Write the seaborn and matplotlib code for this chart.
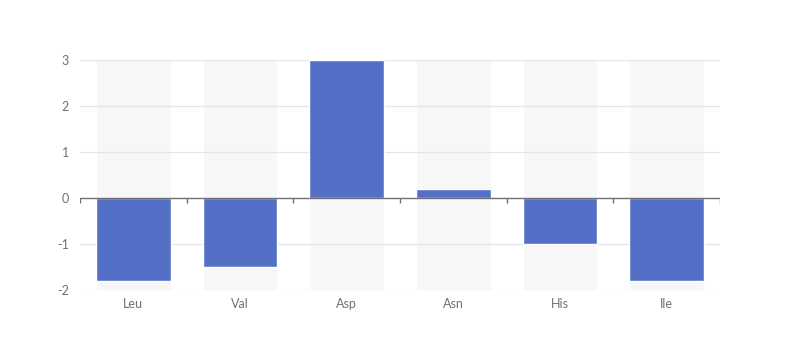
import numpy as np
import pandas as pd
import seaborn as sns
import matplotlib.pyplot as plt

# Chart data
categories = ["Leu", "Val", "Asp", "Asn", "His", "Ile"]
values = [-1.8, -1.5, 3.0, 0.2, -1.0, -1.8]
y_min, y_max = -2, 3
y_ticks = [-2, -1, 0, 1, 2, 3]

BAR_COLOR = "#5470c6"
BG_COLOR = "#f7f7f8"
GRID_COLOR = "#e0e6f1"
AXIS_COLOR = "#6e7079"

sns.set_theme(style="white")
plt.rcParams["font.family"] = ["Lato", "DejaVu Sans"]

df = pd.DataFrame({"category": categories, "value": values})
bg = pd.DataFrame({"category": categories, "value": [y_max - y_min] * len(categories)})

fig = plt.figure(figsize=(8, 3.6), dpi=100)
ax = fig.add_axes([0.1, 1 - 290 / 360, 0.8, 230 / 360])

# background bars spanning the full value range
sns.barplot(data=bg, x="category", y="value", color=BG_COLOR, width=0.7,
            bottom=y_min, saturation=1, ax=ax, zorder=1)

# grid lines sit above the background bars
for t in y_ticks:
    if t != 0:
        ax.axhline(t, color=GRID_COLOR, lw=0.9, zorder=1.5)

sns.barplot(data=df, x="category", y="value", color=BAR_COLOR, width=0.7,
            saturation=1, ax=ax, zorder=2)

# category axis on zero line with boundary ticks
n = len(categories)
ax.axhline(0, color=AXIS_COLOR, lw=1, zorder=3)
ax.vlines(np.arange(n + 1) - 0.5, 0, -5 / 46, color=AXIS_COLOR, lw=1, zorder=3)

ax.set_xlim(-0.5, n - 0.5)
ax.set_ylim(y_min, y_max)
ax.set_yticks(y_ticks)
ax.set_yticklabels([str(t) for t in y_ticks])
ax.set_xlabel("")
ax.set_ylabel("")
ax.tick_params(axis="both", length=0, labelsize=9, labelcolor=AXIS_COLOR)
ax.tick_params(axis="y", pad=8)
ax.tick_params(axis="x", pad=6)
for s in ax.spines.values():
    s.set_visible(False)

fig.savefig("out.png", dpi=100)
